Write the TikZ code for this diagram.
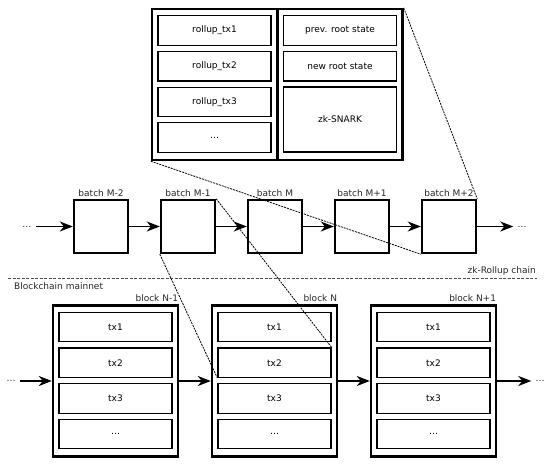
\documentclass[tikz,border=0pt]{standalone}
\usepackage{fontspec}
\setmainfont{DejaVu Sans}
\usetikzlibrary{positioning,arrows.meta}

\tikzset{
  chainbox/.style={draw,line width=2.4pt,minimum width=125pt,minimum height=151pt},
  txbox/.style={draw,line width=1.2pt,minimum width=113pt,minimum height=29.5pt},
  batchbox/.style={draw,line width=2.4pt,minimum width=54pt,minimum height=53pt},
  link/.style={line width=1.7pt,-{Stealth[length=13pt,width=10pt,inset=4pt]}},
  zoomline/.style={line width=0.8pt,dash pattern=on 2pt off 1pt},
  sepline/.style={line width=0.9pt,black!70,dash pattern=on 3pt off 1.5pt},
  lbl/.style={inner sep=1pt,text=black!85},
  dotsnode/.style={inner sep=4pt,text=black!85},
}

\begin{document}
\begin{tikzpicture}[x=1pt,y=-1pt,font=\fontsize{9}{11}\selectfont]
  \useasboundingbox (0,0) rectangle (550,465);

  % zoomed batch contents
  \node[chainbox] (batchtx) at (214.5,84.5) {};
  \node[chainbox] (batchproof) at (340,84.5) {};
  \foreach \bname [count=\j] in {rollup\_tx1,rollup\_tx2,rollup\_tx3,\dots}
    \node[txbox] (rtx\j) at (214.5,{30.5+35.7*(\j-1)}) {\bname};
  \node[txbox] (prevroot) at (340,30.5) {prev. root state};
  \node[txbox] (newroot) at (340,66.2) {new root state};
  \node[txbox,minimum height=65pt] (snark) at (340,119.5) {zk-SNARK};

  % rollup chain
  \foreach \bname [count=\i] in {M-2,M-1,M,M+1,M+2} {
    \node[batchbox] (batch\i) at ({101+87*(\i-1)},226.5) {};
    \node[lbl,above=1pt of batch\i] (batchlbl\i) {batch \bname};
  }
  \node[dotsnode] (batchdotsL) at (27,226.5) {\dots};
  \node[dotsnode] (batchdotsR) at (522,226.5) {\dots};
  \draw[link] (batchdotsL) -- (batch1);
  \foreach \i [evaluate=\i as \k using int(\i+1)] in {1,...,4}
    \draw[link] (batch\i) -- (batch\k);
  \draw[link] (batch5) -- (batchdotsR);

  % separator
  \coordinate (sepL) at (8,278);
  \coordinate (sepR) at (537,278);
  \draw[sepline] (sepL) -- (sepR);
  \node[lbl,above left=1pt and 0pt of sepR] (rollupname) {zk-Rollup chain};
  \node[lbl,below right=3pt and 5pt of sepL] (mainname) {Blockchain mainnet};

  % mainnet blocks
  \foreach \bname [count=\i] in {N-1,N,N+1} {
    \node[chainbox] (block\i) at ({115.5+159*(\i-1)},381) {};
    \node[lbl,above left=1pt and 0pt of block\i.north east] (blocklbl\i) {block \bname};
    \foreach \tname [count=\j] in {tx1,tx2,tx3,\dots}
      \node[txbox] (tx\i-\j) at ({115.5+159*(\i-1)},{327+35.7*(\j-1)}) {\tname};
  }
  \node[dotsnode] (blockdotsL) at (11,381) {\dots};
  \node[dotsnode] (blockdotsR) at (540,381) {\dots};
  \draw[link] (blockdotsL) -- (block1);
  \draw[link] (block1) -- (block2);
  \draw[link] (block2) -- (block3);
  \draw[link] (block3) -- (blockdotsR);

  % zoom lines
  \draw[zoomline] (batchtx.south west) -- (batch5.south west);
  \draw[zoomline] (batchproof.north east) -- (batch5.north east);
  \draw[zoomline] (batch2.south west) -- (tx2-2.south west);
  \draw[zoomline] (batch2.north east) -- (tx2-2.north east);
\end{tikzpicture}
\end{document}
